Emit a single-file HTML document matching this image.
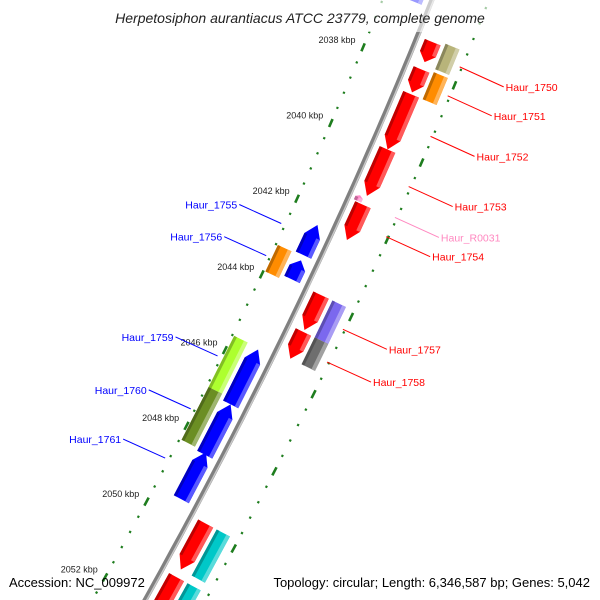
<!DOCTYPE html>
<html><head><meta charset="utf-8"><style>
html,body{margin:0;padding:0;background:#fff;width:600px;height:600px;overflow:hidden}
svg{display:block;font-family:"Liberation Sans","DejaVu Sans",sans-serif}
</style></head><body>
<svg id="map" width="600" height="600" viewBox="0 0 600 600">
<rect width="600" height="600" fill="#fff"/>
<g id="ticks"></g>
<g id="backbone"></g>
<g id="genes"></g>
<g id="ticklabels"></g>
<g id="labels"></g>
<rect x="0" y="0" width="600" height="32" fill="#fff" opacity="0.6"/>
<text x="300" y="23" text-anchor="middle" font-size="14" font-style="italic" fill="#222">Herpetosiphon aurantiacus ATCC 23779, complete genome</text>
<text x="9" y="587" font-size="13" fill="#000">Accession: NC_009972</text>
<text x="590" y="587" text-anchor="end" font-size="13" fill="#000">Topology: circular; Length: 6,346,587 bp; Genes: 5,042</text>
</svg>
<script>
const geneStarts=[2037.24,2037.95,2038.6,2040.04,2041.48,2043.84,2044.8,2049.8,2051.2,2037.16,2037.9,2043.84,2044.8,2049.8,2051.2,2042.37,2043.3,2045.64,2047.08,2048.34,2043.2,2045.6,2046.95,2035.9,2035.9,2041.3];
const geneEnds=[2037.76,2038.55,2040.04,2041.25,2042.4,2044.75,2045.5,2051.0,2052.6,2037.82,2038.6,2044.8,2045.5,2051.0,2052.6,2043.16,2043.8,2047.08,2048.4,2049.57,2043.9,2046.95,2048.34,2036.5,2036.5,2041.45];
const geneRings=[1,1,1,1,1,1,1,1,1,2,2,2,2,2,2,-1,-1,-1,-1,-1,-2,-2,-2,-1,-2,0];
const geneColors=["#ff0000","#ff0000","#ff0000","#ff0000","#ff0000","#ff0000","#ff0000","#ff0000","#ff0000","#b8b47a","#ff8c00","#7b68ee","#6e6e6e","#00c8c8","#00c8c8","#0000ff","#0000ff","#0000ff","#0000ff","#0000ff","#ff8c00","#adff2f","#6b8e23","#0000ff","#c8c8f0","#ff88c8"];
const geneArrows=[1,1,1,1,1,1,1,1,1,0,0,0,0,0,0,-1,-1,-1,-1,-1,0,0,0,-1,0,-1];
const tickStart=2035.2, tickEnd=2053.6, tickStep=0.4;
const majorTicks=[2038,2040,2042,2044,2046,2048,2050,2052];
const tickLabels=["2038 kbp","2040 kbp","2042 kbp","2044 kbp","2046 kbp","2048 kbp","2050 kbp","2052 kbp"];
const labelNames=["Haur_1750","Haur_1751","Haur_1752","Haur_1753","Haur_R0031","Haur_1754","Haur_1757","Haur_1758","Haur_1755","Haur_1756","Haur_1759","Haur_1760","Haur_1761"];
const labelAnchorsK=[2037.5,2038.25,2039.3,2040.6,2041.4,2041.9,2044.3,2045.15,2042.7,2043.55,2046.2,2047.6,2048.9];

const NS="http://www.w3.org/2000/svg";
function frame(k){const y=65+(k-2038)*38.2;const x=432-0.3984*y-0.000133*y*y;const a=-0.3984-0.000266*y;const n=Math.sqrt(1+a*a);return {x,y,tx:a/n,ty:1/n,nx:1/n,ny:-a/n};}
function pos(k,d){const f=frame(k);return [f.x+d*f.nx,f.y+d*f.ny];}
function mk(tag,attrs,parent){const e=document.createElementNS(NS,tag);for(const k in attrs)e.setAttribute(k,attrs[k]);parent.appendChild(e);return e;}
function poly(pts){return pts.map(p=>p[0].toFixed(1)+","+p[1].toFixed(1)).join(" ");}
function shade(hex,f){const c=parseInt(hex.slice(1),16);let r=c>>16,g=(c>>8)&255,b=c&255;const m=v=>Math.max(0,Math.min(255,Math.round(f>0?v+(255-v)*f:v*(1+f))));return "rgb("+m(r)+","+m(g)+","+m(b)+")";}

const bb=document.getElementById('backbone');
const bpts=[];const bpts2=[];
for(let k=2034.5;k<=2054.5;k+=0.25){bpts.push(pos(k,0));bpts2.push(pos(k,1.5));}
const bl=mk('polyline',{points:poly(bpts),fill:'none',stroke:'#808080','stroke-width':5},bb);


const bl2=mk('polyline',{points:poly(bpts2),fill:'none',stroke:'#c8c8c8','stroke-width':1.5},bb);



const tg=document.getElementById('ticks');
for(let k=tickStart;k<=tickEnd+1e-6;k+=tickStep){
  const major=majorTicks.some(m=>Math.abs(m-k)<0.01);
  const len=major?4:1;
  [-46,53].forEach(d=>{
    const p1=pos(k-len/38.2,d),p2=pos(k+len/38.2,d);
    const t=mk('line',{x1:p1[0],y1:p1[1],x2:p2[0],y2:p2[1],stroke:'#1e7d1e','stroke-width':major?2.6:2.2},tg);
    
    
  });
}
const tl=document.getElementById('ticklabels');
majorTicks.forEach((k,i)=>{
  const p=pos(k,-52);
  const t=mk('text',{x:p[0]-2,y:p[1]-2,'text-anchor':'end','font-size':9,fill:'#222'},tl);
  t.textContent=tickLabels[i];
  
  
});

const gg=document.getElementById('genes');
const ringD={1:[8,25],2:[29,44],'-1':[-25,-8],'-2':[-44,-29],0:[6,14]};
geneStarts.forEach((s,i)=>{
  const e=geneEnds[i];const [d1,d2]=ringD[geneRings[i]];const dir=geneArrows[i];
  const head=Math.min(0.3,(e-s)*0.4);const dm=(d1+d2)/2;
  let pts;
  if(dir===1){pts=[pos(s,d1),pos(s,d2),pos(e-head,d2),pos(e,dm),pos(e-head,d1)];}
  else if(dir===-1){pts=[pos(s,dm),pos(s+head,d2),pos(e,d2),pos(e,d1),pos(s+head,d1)];}
  else{pts=[pos(s,d1),pos(s,d2),pos(e,d2),pos(e,d1)];}
  const g=mk('g',{},gg);
  
  
  mk('polygon',{points:poly(pts),fill:geneColors[i]},g);
  const hs=dir===-1?s+head:s, he=dir===1?e-head:e;
  mk('polygon',{points:poly([pos(hs,d2-4),pos(hs,d2),pos(he,d2),pos(he,d2-4)]),fill:shade(geneColors[i],0.35)},g);
  mk('polygon',{points:poly([pos(hs,d1),pos(hs,d1+3),pos(he,d1+3),pos(he,d1)]),fill:shade(geneColors[i],-0.25)},g);
});

const lg=document.getElementById('labels');
labelNames.forEach((name,i)=>{
  const k=labelAnchorsK[i];const right=i<8;
  const col=name==="Haur_R0031"?"#ff88c0":(right?"#ff0000":"#0000ff");
  const p1=right?pos(k,50):pos(k,-50);
  const dx=right?44:-42, dy=right?20:-19;
  const p2=[p1[0]+dx,p1[1]+dy];
  const l=mk('line',{x1:p1[0],y1:p1[1]+(right?2:0),x2:p2[0],y2:p2[1]+(right?2:0),stroke:col,'stroke-width':1},lg);
  
  
  const t=mk('text',{x:right?p2[0]+2:p2[0]-2,y:p2[1]+(right?6:4),'text-anchor':right?'start':'end','font-size':10.5,fill:col},lg);
  t.textContent=name;
  
  
});
</script>
</body></html>
